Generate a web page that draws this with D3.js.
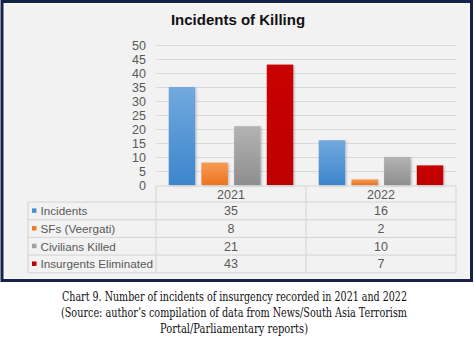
<!DOCTYPE html>
<html><head><meta charset="utf-8">
<script src="https://cdn.jsdelivr.net/npm/d3@7"></script>
<style>html,body{margin:0;padding:0;background:#fff;}svg{display:block;}</style>
</head><body>
<svg id="c" width="474" height="342"></svg>
<script>
const categories = ["2021", "2022"];
const seriesNames = ["Incidents", "SFs (Veergati)", "Civilians Killed", "Insurgents Eliminated"];
const incidents = [35, 16];
const sfs = [8, 2];
const civilians = [21, 10];
const insurgents = [43, 7];
const yTicks = [0, 5, 10, 15, 20, 25, 30, 35, 40, 45, 50];
const title = "Incidents of Killing";
const captionLines = [
  "Chart 9. Number of incidents of insurgency recorded in 2021 and 2022",
  "(Source: author\u2019s compilation of data from News/South Asia Terrorism",
  "Portal/Parliamentary reports)"
];

const seriesValues = [incidents, sfs, civilians, insurgents];
const colors = [["#72a9de", "#3d85cd"], ["#f79a55", "#ec7420"], ["#b3b3b3", "#8e8e8e"], ["#c90000", "#be0000"]];
const legendColors = ["#4a8fd6", "#ef7b2b", "#a0a0a0", "#c00000"];
const sans = "Liberation Sans, Arial, sans-serif";

const svg = d3.select("#c");
const defs = svg.append("defs");
colors.forEach((c, i) => {
  const g = defs.append("linearGradient").attr("id", "g" + i).attr("x1", 0).attr("y1", 0).attr("x2", 0).attr("y2", 1);
  g.append("stop").attr("offset", "0%").attr("stop-color", c[0]);
  g.append("stop").attr("offset", "100%").attr("stop-color", c[1]);
});
const f = defs.append("filter").attr("id", "sh").attr("x", "-20%").attr("y", "-20%").attr("width", "150%").attr("height", "150%");
f.append("feDropShadow").attr("dx", 1).attr("dy", 1).attr("stdDeviation", 1).attr("flood-color", "#000").attr("flood-opacity", 0.25);

// frame
svg.append("rect").attr("x", 2).attr("y", 1.5).attr("width", 469.5).attr("height", 279).attr("fill", "#f2f2f2")
  .attr("stroke", "#17224a").attr("stroke-width", 3);
svg.append("rect").attr("x", 4.5).attr("y", 3.5).attr("width", 464.5).attr("height", 275).attr("fill", "none")
  .attr("stroke", "#fafafa").attr("stroke-width", 1);

svg.append("text").attr("x", 238).attr("y", 25).attr("text-anchor", "middle")
  .attr("font-family", sans).attr("font-weight", "bold").attr("font-size", 15)
  .attr("fill", "#111").text(title);

const y = d3.scaleLinear().domain([0, 50]).range([185, 45]);
const x0 = d3.scaleBand().domain(categories).range([156, 456]);
const x1 = d3.scaleBand().domain(seriesNames).range([0, x0.bandwidth()]).paddingInner(0.19).paddingOuter(0.39);

// grid
svg.append("g").selectAll("line").data(yTicks.filter(d => d > 0)).join("line")
  .attr("x1", 156).attr("x2", 456).attr("y1", d => Math.round(y(d)) + 0.5).attr("y2", d => Math.round(y(d)) + 0.5)
  .attr("stroke", "#d9d9d9").attr("stroke-width", 1);

// y axis
const yAxis = svg.append("g").attr("transform", "translate(146,0)")
  .call(d3.axisLeft(y).tickValues(yTicks).tickSize(0).tickPadding(0));
yAxis.select(".domain").remove();
yAxis.selectAll("text").attr("font-family", sans).attr("font-size", 12.5).attr("fill", "#595959");

// bars
const groups = svg.append("g").selectAll("g").data(categories).join("g")
  .attr("transform", d => `translate(${x0(d)},0)`);
groups.each(function (cat, ci) {
  d3.select(this).selectAll("rect").data(seriesNames).join("rect")
    .attr("x", s => x1(s)).attr("width", x1.bandwidth())
    .attr("y", (s, si) => y(seriesValues[si][ci]))
    .attr("height", (s, si) => y(0) - y(seriesValues[si][ci]))
    .attr("fill", (s, si) => `url(#g${si})`)
    .attr("filter", "url(#sh)");
});

// data table
const tableLeft = 28, tableTop = 186, headerH = 16, rowH = 17.7;
const tableBottom = tableTop + headerH + rowH * seriesNames.length;
const lineCol = "#d4d4d4";
const fs = 11.7;
const tg = svg.append("g");
tg.append("line").attr("x1", 156).attr("x2", 456).attr("y1", tableTop).attr("y2", tableTop).attr("stroke", lineCol);
const hl = d3.range(seriesNames.length + 1).map(i => tableTop + headerH + i * rowH);
tg.selectAll("line.h").data(hl).join("line").attr("class", "h")
  .attr("x1", tableLeft).attr("x2", 456).attr("y1", d => d).attr("y2", d => d).attr("stroke", lineCol);
tg.append("line").attr("x1", tableLeft).attr("x2", tableLeft).attr("y1", tableTop + headerH).attr("y2", tableBottom).attr("stroke", lineCol);
[156, 306, 456].forEach(xx => tg.append("line").attr("x1", xx).attr("x2", xx).attr("y1", tableTop).attr("y2", tableBottom).attr("stroke", lineCol));
tg.selectAll("text.hd").data(categories).join("text").attr("class", "hd")
  .attr("x", d => x0(d) + x0.bandwidth() / 2).attr("y", tableTop + headerH / 2 + 4.5)
  .attr("text-anchor", "middle").attr("font-family", sans).attr("font-size", 12.5)
  .attr("fill", "#595959").text(d => d);
seriesNames.forEach((s, si) => {
  const cy = tableTop + headerH + si * rowH + rowH / 2;
  tg.append("rect").attr("x", 32).attr("y", cy - 2.5).attr("width", 4.5).attr("height", 4.5).attr("fill", legendColors[si]);
  tg.append("text").attr("x", 40.5).attr("y", cy + 4.3).attr("font-family", sans)
    .attr("font-size", fs).attr("fill", "#595959").text(s);
  categories.forEach((c, ci) => {
    tg.append("text").attr("x", x0(c) + x0.bandwidth() / 2).attr("y", cy + 4.5).attr("text-anchor", "middle")
      .attr("font-family", sans).attr("font-size", 12.5).attr("fill", "#595959")
      .text(seriesValues[si][ci]);
  });
});

// caption
const capX = [[62, 407], [61, 407], [160, 308]];
const capY = [301, 317, 333];
svg.append("g").selectAll("text").data(captionLines).join("text")
  .attr("x", (d, i) => capX[i][0]).attr("y", (d, i) => capY[i])
  .attr("textLength", (d, i) => capX[i][1] - capX[i][0]).attr("lengthAdjust", "spacingAndGlyphs")
  .attr("font-family", "'DejaVu Serif', serif").attr("font-stretch", "condensed").attr("font-size", 12).attr("fill", "#111")
  .text(d => d);
</script>
</body></html>
